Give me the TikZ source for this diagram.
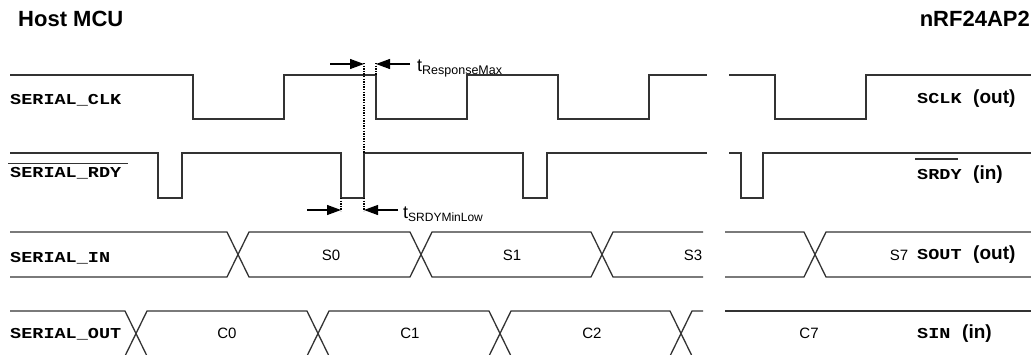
\documentclass[tikz,border=0pt]{standalone}
\usepackage{fontspec}
\setmainfont{Liberation Sans}
\newfontfamily\courfont{Liberation Mono}
\usetikzlibrary{arrows.meta}
\newcommand{\mono}[1]{\scalebox{1}[0.82]{\courfont\bfseries\fontsize{18.5}{20}\selectfont #1}}
\begin{document}
\begin{tikzpicture}[x=1pt,y=-1pt,
  wave/.style={draw=black!80,line width=1.3pt,line join=miter},
  dotl/.style={draw=black,line width=1.4pt,dash pattern=on 1.3pt off 1.3pt},
  dimarrow/.style={draw=black,line width=1.1pt,-{Triangle[length=14pt,width=10pt]}},
  sig/.style={inner sep=0pt,anchor=base west},
  dir/.style={inner sep=0pt,anchor=base west,font=\bfseries\fontsize{19}{21}\selectfont},
  title/.style={inner sep=0pt,font=\bfseries\fontsize{22}{24}\selectfont},
  busval/.style={inner sep=0pt,anchor=base,font=\fontsize{15}{17}\selectfont},
  tlabel/.style={inner sep=0pt,anchor=base west,font=\fontsize{18}{20}\selectfont}]
\path[use as bounding box] (0,0) rectangle (1031,354);

% titles
\node[title,anchor=base west] (host) at (18,26) {Host MCU};
\node[title,anchor=base east] (nrf) at (1030,26) {nRF24AP2};

% left signal labels
\node[sig] (lclk) at (10,104) {\mono{SERIAL\_CLK}};
\node[sig] (lrdy) at (10,177) {\mono{SERIAL\_RDY}};
\draw[black!80,line width=1.1pt] (8,163.5) -- (128,163.5);
\node[sig] (lin) at (10,262) {\mono{SERIAL\_IN}};
\node[sig] (lout) at (10,338) {\mono{SERIAL\_OUT}};

% right signal labels
\node[sig] (rclk) at (917,103) {\mono{SCLK}};
\node[dir] (rclkd) at (973,103) {(out)};
\node[sig] (rrdy) at (917,179) {\mono{SRDY}};
\draw[black!80,line width=1.1pt] (915,159) -- (958,159);
\node[dir] (rrdyd) at (973,179) {(in)};
\node[sig] (rout) at (917,259) {\mono{SOUT}};
\node[dir] (routd) at (973,259) {(out)};
\node[sig] (rin) at (917,338) {\mono{SIN}};
\node[dir] (rind) at (962,338) {(in)};

\begin{scope}
\clip (0,0) rectangle (1031,354);
% SERIAL_CLK
\draw[wave] (10,75) -- (193,75) -- (193,119) -- (284,119) -- (284,75) -- (376,75)
  -- (376,119) -- (467,119) -- (467,75) -- (558,75) -- (558,119) -- (649,119)
  -- (649,75) -- (707,75);
\draw[wave] (729,75) -- (775,75) -- (775,119) -- (866,119) -- (866,75) -- (1031,75);
% SERIAL_RDY
\draw[wave] (10,153) -- (158,153) -- (158,198) -- (182,198) -- (182,153) -- (341,153)
  -- (341,198) -- (364,198) -- (364,153) -- (523,153) -- (523,198) -- (547,198)
  -- (547,153) -- (707,153);
\draw[wave] (729,153) -- (741,153) -- (741,198) -- (763,198) -- (763,153) -- (1031,153);
% SERIAL_IN bus
\draw[wave] (10,232) -- (227,232) -- (249,277) -- (410,277) -- (432,232) -- (591,232)
  -- (613,277) -- (703,277);
\draw[wave] (10,277) -- (227,277) -- (249,232) -- (410,232) -- (432,277) -- (591,277)
  -- (613,232) -- (703,232);
\draw[wave] (725,232) -- (804,232) -- (826,277) -- (1031,277);
\draw[wave] (725,277) -- (804,277) -- (826,232) -- (1031,232);
% SERIAL_OUT bus
\draw[wave] (10,311) -- (125,311) -- (147,356) -- (307,356) -- (329,311) -- (489,311)
  -- (511,356) -- (670,356) -- (692,311) -- (703,311);
\draw[wave] (10,356) -- (125,356) -- (147,311) -- (307,311) -- (329,356) -- (489,356)
  -- (511,311) -- (670,311) -- (692,356) -- (703,356);
\draw[wave] (725,311) -- (1031,311);
\draw[wave] (725,356) -- (1031,356);
\end{scope}

% bus values
\node[busval] (s0) at (331,260) {S0};
\node[busval] (s1) at (512,260) {S1};
\node[busval] (s3) at (693,260) {S3};
\node[busval] (s7) at (899,260) {S7};
\node[busval] (c0) at (227,338) {C0};
\node[busval] (c1) at (410,338) {C1};
\node[busval] (c2) at (592,338) {C2};
\node[busval] (c7) at (809,338) {C7};

% timing markers
\coordinate (rA) at (364,64);
\coordinate (rB) at (376,64);
\coordinate (rAs) at (330,64);
\coordinate (rBs) at (410,64);
\draw[dotl] (364,63) -- (364,153);
\draw[dotl] (376,63) -- (376,75);
\draw[dimarrow] (rAs) -- (rA);
\draw[dimarrow] (rBs) -- (rB);
\node[tlabel] (tresp) at (417,71) {t\raisebox{-3.5pt}{\fontsize{12.5}{14}\selectfont ResponseMax}};

\coordinate (sA) at (341,210);
\coordinate (sB) at (364,210);
\coordinate (sAs) at (307,210);
\coordinate (sBs) at (398,210);
\draw[dotl] (341,198) -- (341,211);
\draw[dotl] (364,198) -- (364,211);
\draw[dimarrow] (sAs) -- (sA);
\draw[dimarrow] (sBs) -- (sB);
\node[tlabel] (tsrdy) at (403,218) {t\raisebox{-3.5pt}{\fontsize{12}{14}\selectfont SRDYMinLow}};
\end{tikzpicture}
\end{document}
